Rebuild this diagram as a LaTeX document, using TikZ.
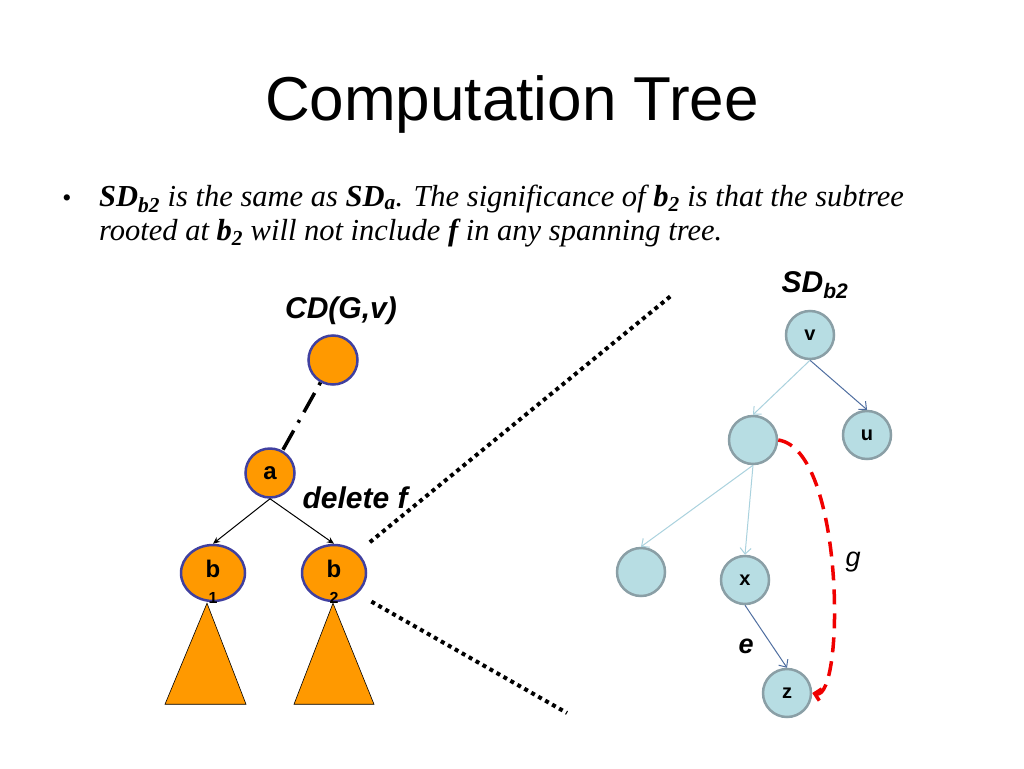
\documentclass[tikz,border=0pt]{standalone}
\usepackage{fontspec}
\setmainfont{Liberation Serif}
\setsansfont{Liberation Sans}
\usetikzlibrary{arrows.meta,shapes.geometric}

\definecolor{treeorange}{RGB}{255,153,0}
\definecolor{treerim}{RGB}{64,64,160}
\definecolor{sdfill}{RGB}{183,221,227}
\definecolor{sdrim}{RGB}{138,159,166}
\definecolor{sddark}{RGB}{79,110,160}
\definecolor{sdlight}{RGB}{170,210,222}
\definecolor{gred}{RGB}{240,0,0}

\tikzset{
  cdnode/.style={circle, minimum size=49pt, inner sep=0pt, fill=treeorange, draw=treerim, line width=2.5pt, font=\sffamily\bfseries\fontsize{24}{24}\selectfont},
  bnode/.style={ellipse, minimum width=64pt, minimum height=56pt, inner sep=0pt, fill=treeorange, draw=treerim, line width=2.5pt, font=\sffamily\bfseries\fontsize{24}{24}\selectfont},
  bsub/.style={label distance=-13pt, font=\sffamily\bfseries\fontsize{16}{16}\selectfont},
  sdnode/.style={circle, minimum size=48pt, inner sep=0pt, fill=sdfill, draw=sdrim, line width=2.5pt, font=\sffamily\bfseries\fontsize{20}{20}\selectfont},
  subtree/.style={fill=treeorange, draw=black, line width=0.6pt},
  rootlink/.style={line width=3.5pt, dash pattern=on 3pt off 9pt on 22pt off 9pt},
  zoomline/.style={line width=4pt, dash pattern=on 4pt off 4pt, shorten <=16pt},
  cdedge/.style={line width=1pt, -{Stealth[length=7pt,width=6pt]}},
  darkedge/.style={draw=sddark, line width=1pt, -{Straight Barb[length=6pt,width=11pt]}},
  lightedge/.style={draw=sdlight, line width=1pt, -{Straight Barb[length=6pt,width=11pt]}},
  gedge/.style={draw=gred, line width=3.5pt, dash pattern=on 15pt off 9pt, -{Straight Barb[length=6pt,width=12pt]}},
  tag/.style={font=\sffamily\bfseries\itshape\fontsize{30}{30}\selectfont},
  bodyline/.style={anchor=base west, inner sep=0pt, text height=21pt, text depth=6pt, font=\itshape\fontsize{30.5}{30}\selectfont}
}

\begin{document}
\begin{tikzpicture}[x=1pt,y=-1pt]
\useasboundingbox (0,0) rectangle (1024,768);
\fill[white] (0,0) rectangle (1024,768);

\node[anchor=base, font=\sffamily\fontsize{62}{62}\selectfont] (title) at (512,120) {Computation Tree};

\node[anchor=base, font=\fontsize{26}{26}\selectfont] (bullet) at (67,206) {•};
\node[bodyline] (line1) at (99,206)
  {\textbf{SD}\textsubscript{\textbf{b2}} is the same as \textbf{SD}\textsubscript{\textbf{a}}. The significance of \textbf{b}\textsubscript{\textbf{2}} is that the subtree};
\node[bodyline] (line2) at (99,240)
  {rooted at \textbf{b}\textsubscript{\textbf{2}} will not include \textbf{f} in any spanning tree.};

% left tree
\node[tag, anchor=base] (cdlabel) at (341,318) {CD(G,v)};
\node[cdnode] (root) at (333,360) {};
\node[cdnode] (a) at (270,473) {a};
\node[bnode, label={[bsub]below:1}] (b1) at (213,573) {\raisebox{9pt}{b}};
\node[bnode, label={[bsub]below:2}] (b2) at (334,573) {\raisebox{9pt}{b}};
\node[tag, anchor=base west] (delf) at (299,508) {delete f};

\draw[rootlink] (root) -- (a);
\draw[cdedge] (a.south) -- (b1.north);
\draw[cdedge] (a.south) -- (b2.north);

\draw[subtree] (b1.south) ++(-6,1) -- ++(-42,101) -- ++(81,0) -- cycle;
\draw[subtree] (b2.south) ++(-1,1) -- ++(-39,101) -- ++(80,0) -- cycle;

\coordinate (zoomtop) at (672,295);
\coordinate (zoombot) at (567,713);
\draw[zoomline] (b2.north east) -- (zoomtop);
\draw[zoomline] (b2.south east) -- (zoombot);

% right tree
\node[tag, anchor=base] (sdlabel) at (815,292) {SD\textsubscript{b2}};
\node[sdnode] (v) at (810,335) {v};
\node[sdnode] (u) at (867,435) {u};
\node[sdnode] (w) at (753,440) {};
\node[sdnode] (y) at (641,572) {};
\node[sdnode] (x) at (745,580) {x};
\node[sdnode] (z) at (787,693) {z};

\draw[darkedge] (v.south) -- (u.north);
\draw[lightedge] (v.south) -- (w.north);
\draw[lightedge] (w.south) -- (y.north);
\draw[lightedge] (w.south) -- (x.north);
\draw[darkedge] (x.south) -- (z.north);
\node[tag, font=\sffamily\bfseries\itshape\fontsize{27}{27}\selectfont] (elabel) at (746,646) {e};

\draw[gedge] (w.east) .. controls (845,450) and (845,700) .. (z.east);
\node[font=\sffamily\itshape\fontsize{27}{27}\selectfont] (glabel) at (853,562) {g};
\end{tikzpicture}
\end{document}
